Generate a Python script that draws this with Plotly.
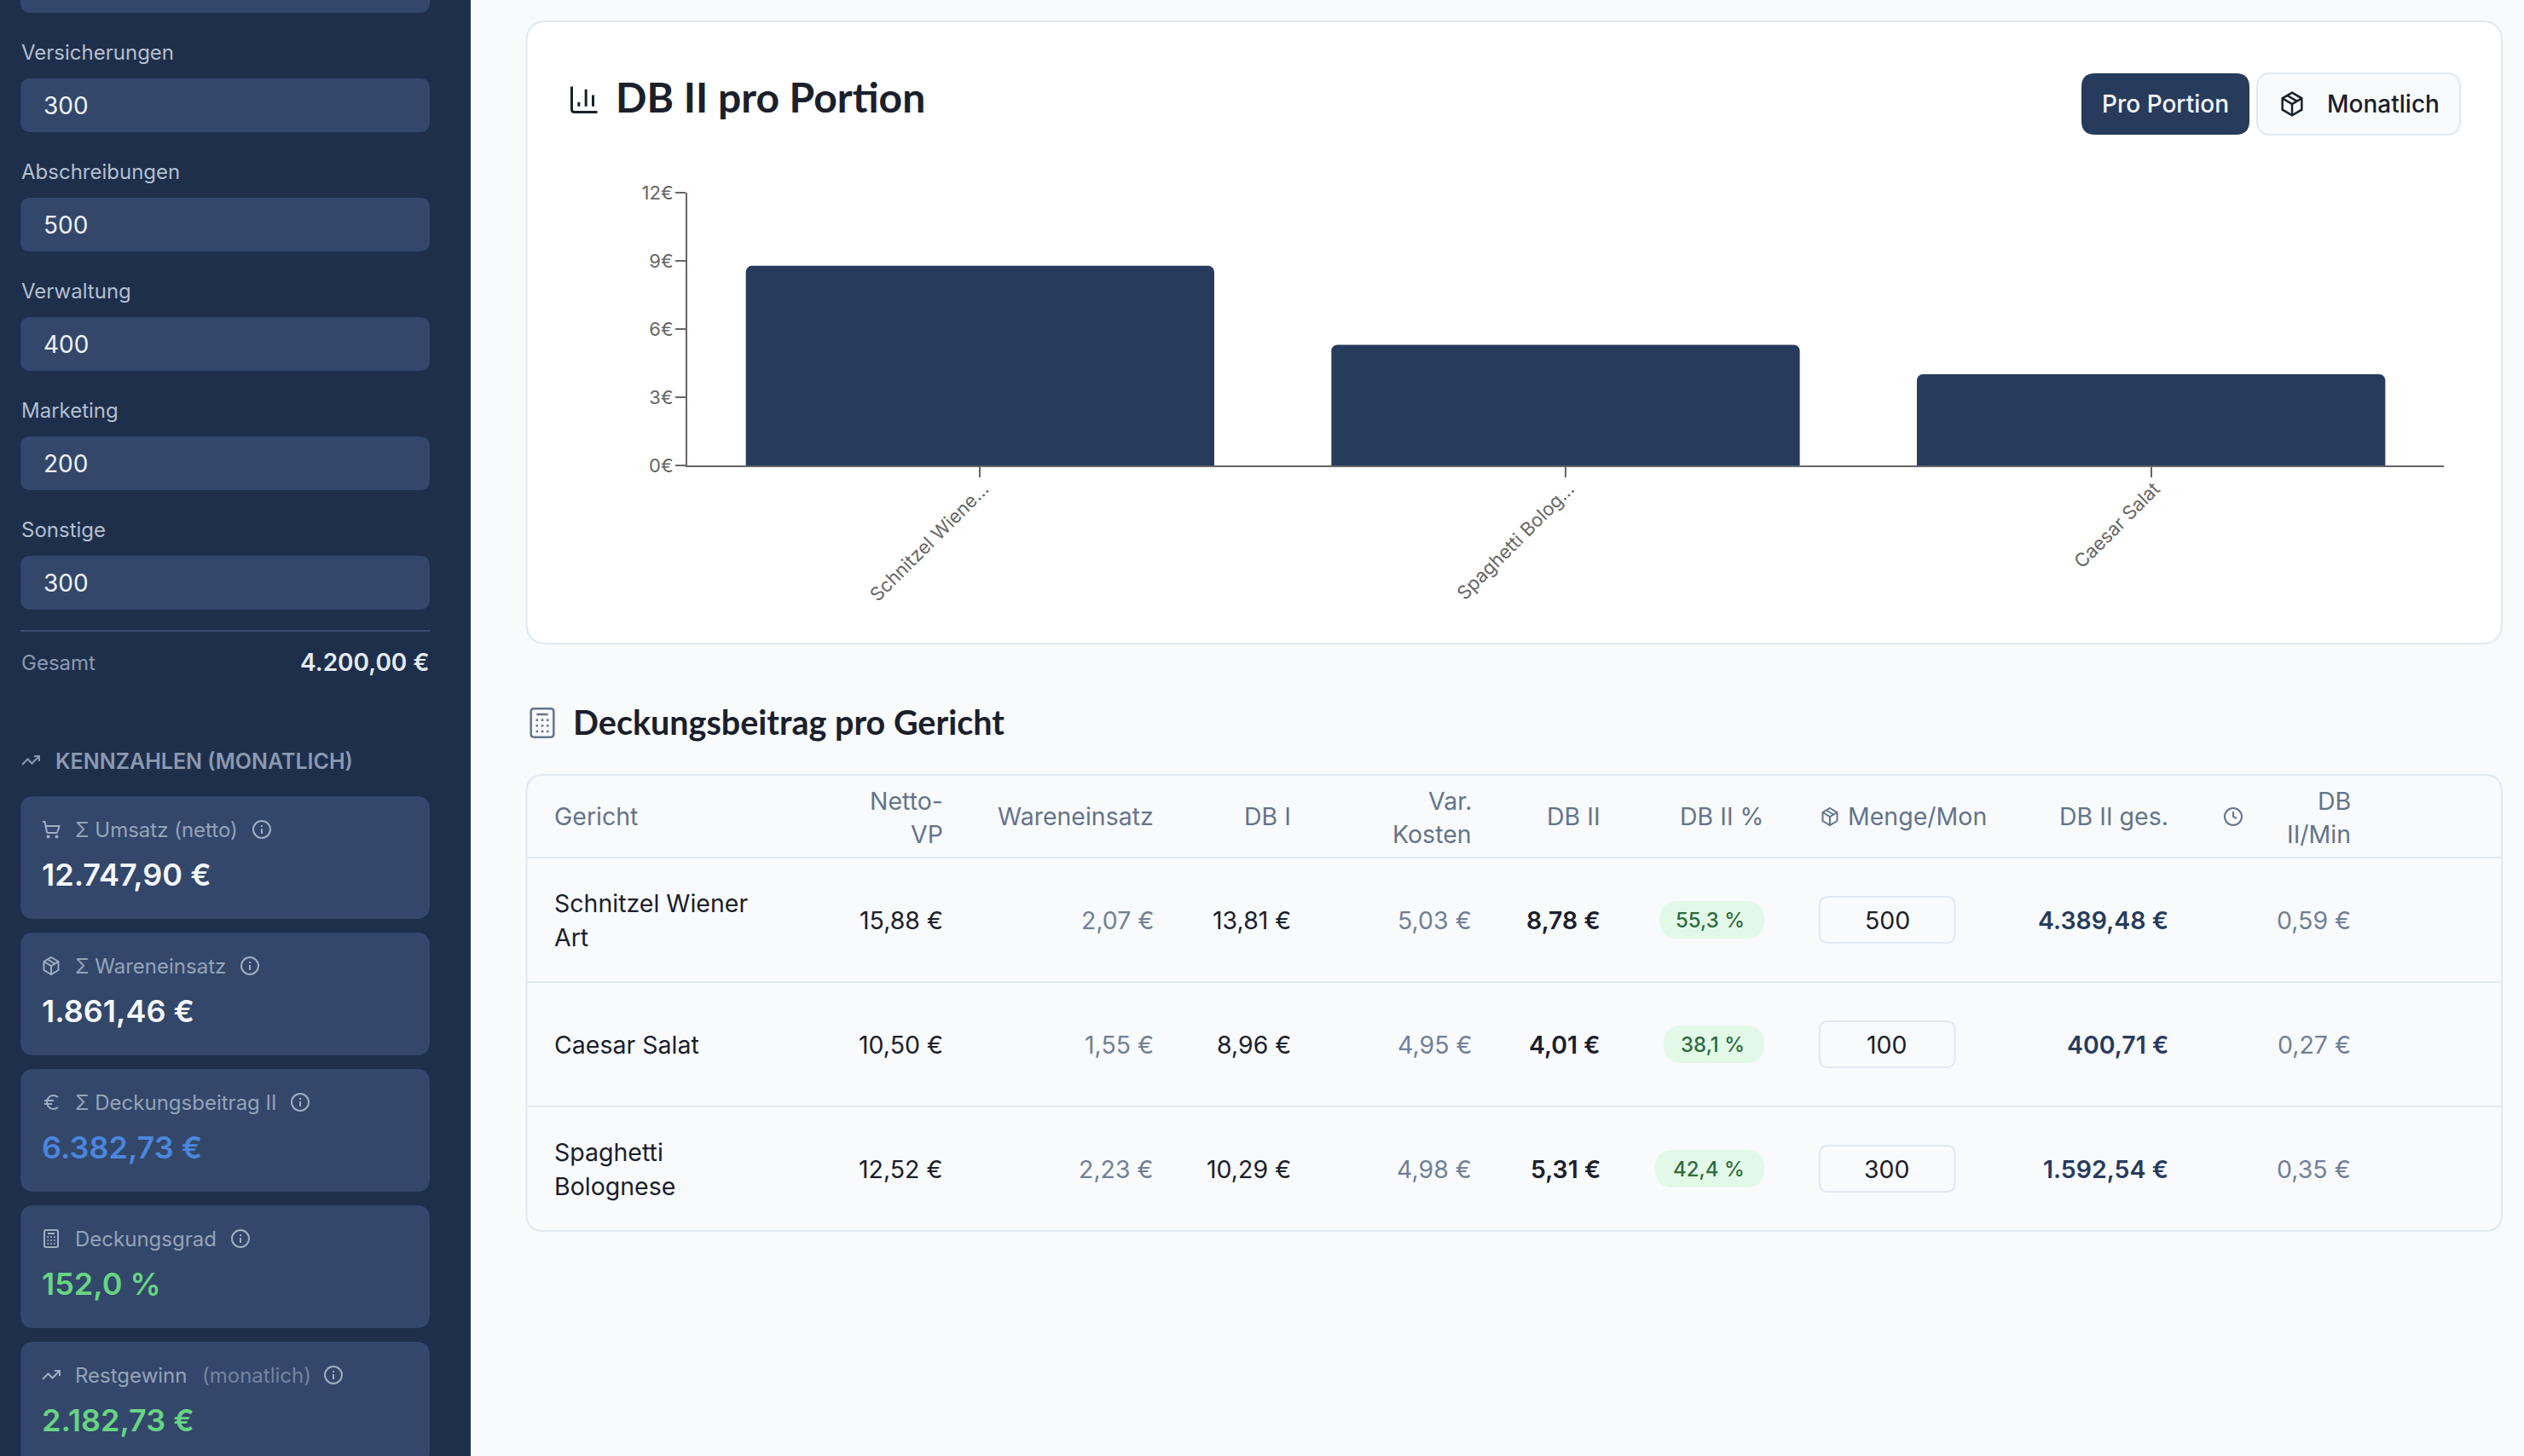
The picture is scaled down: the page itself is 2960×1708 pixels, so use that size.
import re
import plotly.graph_objects as go

W, H = 2960, 1708

# chart values
chart_labels = ["Schnitzel Wiene...", "Spaghetti Bolog...", "Caesar Salat"]
chart_values = [8.78, 5.31, 4.01]
chart_ticks = [0, 3, 6, 9, 12]
chart_tick_text = ["0€", "3€", "6€", "9€", "12€"]

# sidebar values
cost_labels = ["Versicherungen", "Abschreibungen", "Verwaltung", "Marketing", "Sonstige"]
cost_values = [300, 500, 400, 200, 300]
cost_total = "4.200,00 €"
kpi_labels = ["Σ Umsatz (netto)", "Σ Wareneinsatz", "Σ Deckungsbeitrag II", "Deckungsgrad", "Restgewinn"]
kpi_values = ["12.747,90 €", "1.861,46 €", "6.382,73 €", "152,0 %", "2.182,73 €"]

# table values
dish_lines = [["Schnitzel Wiener", "Art"], ["Caesar Salat"], ["Spaghetti", "Bolognese"]]
netto_vp = [15.88, 10.50, 12.52]
wareneinsatz = [2.07, 1.55, 2.23]
db_1 = [13.81, 8.96, 10.29]
var_kosten = [5.03, 4.95, 4.98]
db_2 = [8.78, 4.01, 5.31]
db_2_pct = [55.3, 38.1, 42.4]
menge = [500, 100, 300]
db_2_ges = [4389.48, 400.71, 1592.54]
db_2_min = [0.59, 0.27, 0.35]

SIDEBAR = "#1e2f4c"
FIELD = "#33476b"
NAVY = "#273b5d"
PAGE = "#f8fafc"
LINE = "#e2e8f0"
DARK = "#1a202c"
GREY = "#718096"
FONT = "Inter"
HEAD = "Lato"
TS = 28.5


def eur(v):
    s = f"{v:,.2f}".replace(",", "X").replace(".", ",").replace("X", ".")
    return s + " €"


def px(x):
    return x / W


def py(y):
    return 1 - y / H


def to_paper(path):
    # path is in pixel coords, only absolute M L Q C Z commands
    res, is_x = [], True
    for tok in re.findall(r"[MLQCZ]|-?[\d.]+", path):
        if tok in "MLQCZ":
            res.append(tok)
            is_x = True
        else:
            res.append(f"{px(float(tok)):.6f}" if is_x else f"{py(float(tok)):.6f}")
            is_x = not is_x
    return " ".join(res)


shapes = []
notes = []


def rrect(x0, y0, x1, y1, r, fill, line=None, lw=2):
    p = (f"M {x0+r} {y0} L {x1-r} {y0} Q {x1} {y0} {x1} {y0+r} L {x1} {y1-r} Q {x1} {y1} {x1-r} {y1} "
         f"L {x0+r} {y1} Q {x0} {y1} {x0} {y1-r} L {x0} {y0+r} Q {x0} {y0} {x0+r} {y0} Z")
    shapes.append(dict(type="path", path=to_paper(p), xref="paper", yref="paper", layer="below",
                       fillcolor=fill, line=dict(color=line or fill, width=lw if line else 0)))


def hline(x0, x1, y, color, lw=2):
    shapes.append(dict(type="line", xref="paper", yref="paper", layer="below", x0=px(x0), x1=px(x1),
                       y0=py(y), y1=py(y), line=dict(color=color, width=lw)))


def text(x, y, s, size=28, color=DARK, anchor="left", weight=400, family=FONT):
    notes.append(dict(xref="paper", yref="paper", x=px(x), y=py(y), text=s, showarrow=False,
                      xanchor=anchor, yanchor="middle", borderpad=0,
                      font=dict(family=family, size=size, color=color, weight=weight)))


# icons on a 24 unit grid
ICONS = {
    "bars": ["M 3 3 L 3 19 Q 3 21 5 21 L 21 21", "M 8 17 L 8 14", "M 13 17 L 13 5", "M 18 17 L 18 9"],
    "box": ["M 12 2 L 20.5 7 L 20.5 17 L 12 22 L 3.5 17 L 3.5 7 Z", "M 3.5 7 L 12 12 L 20.5 7", "M 12 22 L 12 12",
            "M 7.7 4.5 L 16.3 9.5"],
    "cart": ["M 2 3 L 4.5 3 L 7 15 Q 7.2 16 8.5 16 L 18 16 Q 19 16 19.4 15 L 21.5 8 L 5.5 8"],
    "trend": ["M 22 7 L 13.5 15.5 L 8.5 10.5 L 2 17", "M 16 7 L 22 7 L 22 13"],
    "euro": ["M 4 10 L 15 10", "M 4 14 L 13 14",
             "M 20 6 C 18 4.6 16 4 14.5 4 C 10 4 7 7.5 7 12 C 7 16.5 10 20 14.5 20 C 16 20 18 19.4 20 18"],
    "calc": ["M 6 2 L 18 2 Q 20 2 20 4 L 20 20 Q 20 22 18 22 L 6 22 Q 4 22 4 20 L 4 4 Q 4 2 6 2 Z", "M 8 6 L 16 6",
             "M 7.5 10 L 9 10", "M 11.2 10 L 12.8 10", "M 15 10 L 16.5 10", "M 7.5 14 L 9 14", "M 11.2 14 L 12.8 14",
             "M 15 14 L 16.5 14", "M 7.5 18 L 9 18", "M 11.2 18 L 12.8 18", "M 15 18 L 16.5 18"],
    "info": ["M 12 17 L 12 11", "M 12 7 L 12 9"],
    "clock": ["M 12 6 L 12 12 L 16 14"],
}


def icon(name, cx, cy, size, color, lw=2):
    k = size / 24
    for d in ICONS[name]:
        res, is_x = [], True
        for t in d.split():
            if t in "MLQCZ":
                res.append(t)
                is_x = True
            else:
                res.append(str(cx + (float(t) - 12) * k if is_x else cy + (float(t) - 12) * k))
                is_x = not is_x
        shapes.append(dict(type="path", path=to_paper(" ".join(res)), xref="paper", yref="paper", layer="below",
                           line=dict(color=color, width=lw)))
    if name in ("info", "clock"):
        r = 10 * k
        shapes.append(dict(type="circle", xref="paper", yref="paper", layer="below", x0=px(cx - r), x1=px(cx + r),
                           y0=py(cy - r), y1=py(cy + r), line=dict(color=color, width=lw)))
    if name == "cart":
        for ux in (8.5, 18.5):
            r = 1 * k
            ax, ay = cx + (ux - 12) * k, cy + (20.5 - 12) * k
            shapes.append(dict(type="circle", xref="paper", yref="paper", layer="below", x0=px(ax - r), x1=px(ax + r),
                               y0=py(ay - r), y1=py(ay + r), line=dict(color=color, width=lw)))


# page and sidebar
shapes.append(dict(type="rect", xref="paper", yref="paper", layer="below", x0=0, x1=1, y0=0, y1=1,
                   fillcolor=PAGE, line=dict(width=0)))
shapes.append(dict(type="rect", xref="paper", yref="paper", layer="below", x0=0, x1=px(552), y0=0, y1=1,
                   fillcolor=SIDEBAR, line=dict(width=0)))
rrect(24, -60, 504, 15, 12, FIELD)

for i, (lab, val) in enumerate(zip(cost_labels, cost_values)):
    top = 92 + 140 * i
    text(23.5, 61.5 + 140 * i, lab, 24, "#b4bfce")
    rrect(24, top, 504, top + 63, 12, FIELD)
    text(50, 123.5 + 140 * i, str(val), 28, "#eef2f7")

hline(24, 504, 740, "#3a4e72")
text(23.5, 777, "Gesamt", 24, "#8b99b0")
text(504, 777, cost_total, 28, "#e6ebf2", "right", 600)

# kennzahlen
icon("trend", 36, 892, 24, "#8b99b0")
text(64, 893, "KENNZAHLEN (MONATLICH)", 25, "#8b99b0", weight=600)

kpi_icons = ["cart", "box", "euro", "calc", "trend"]
kpi_colors = ["#f4f6fa", "#f4f6fa", "#4a86dc", "#68d483", "#68d483"]
info_x = [307, 293, 352, 282, 391]
for i in range(5):
    top = 934 + 160 * i
    rrect(24, top, 504, top + 144, 16, FIELD)
    icon(kpi_icons[i], 60, 973 + 160 * i, 24, "#a0aec0")
    text(86.5, 973 + 160 * i, kpi_labels[i], 24, "#94a3b8")
    icon("info", info_x[i], 973 + 160 * i, 24, "#a0aec0")
    text(48, 1025.5 + 160 * i, kpi_values[i], 36, kpi_colors[i], weight=600)
text(236, 1613, "(monatlich)", 24, "#74849e")

# chart card
rrect(617.5, 25, 2934, 755, 24, "white", LINE)
icon("bars", 685.5, 116.5, 40, DARK, 3)
text(721, 113, "DB II pro Portion", 48, DARK, weight=700, family=HEAD)
rrect(2441, 86, 2638, 158, 16, NAVY)
text(2539.5, 122, "Pro Portion", 28, "#f4f6fa", "center", 500)
rrect(2647, 86, 2885, 158, 16, PAGE, LINE)
icon("box", 2688, 122, 32, DARK, 2.5)
text(2728, 122, "Monatlich", 28, DARK, weight=500)

# table
icon("calc", 636, 848, 40, "#64748b", 2.5)
text(671, 846, "Deckungsbeitrag pro Gericht", 39.5, DARK, weight=700, family=HEAD)
rrect(617.5, 909, 2934, 1444, 20, PAGE, LINE)
for y in (1006, 1152, 1298):
    hline(618, 2933, y, LINE)

HEAD_C = "#64748b"
text(649, 958, "Gericht", TS, HEAD_C)
for x, lines in [(1107, ["Netto-", "VP"]), (1727, ["Var.", "Kosten"]), (2758, ["DB", "II/Min"])]:
    text(x, 939, lines[0], TS, HEAD_C, "right")
    text(x, 978, lines[1], TS, HEAD_C, "right")
for x, s in [(1354, "Wareneinsatz"), (1515, "DB I"), (1878, "DB II"), (2070, "DB II %"), (2544, "DB II ges.")]:
    text(x, 958, s, TS, HEAD_C, "right")
icon("box", 2146, 958, 24, HEAD_C)
text(2166, 958, "Menge/Mon", TS, HEAD_C)
icon("clock", 2619, 958, 24, HEAD_C)

pill_left = [1946, 1951, 1941]
for i in range(3):
    yc = 1079 + 146 * i
    if len(dish_lines[i]) == 2:
        text(649, yc - 20, dish_lines[i][0], TS, DARK)
        text(649, yc + 20, dish_lines[i][1], TS, DARK)
    else:
        text(649, yc, dish_lines[i][0], TS, DARK)
    text(1107, yc, eur(netto_vp[i]), TS, DARK, "right")
    text(1354, yc, eur(wareneinsatz[i]), TS, GREY, "right")
    text(1515, yc, eur(db_1[i]), TS, DARK, "right")
    text(1727, yc, eur(var_kosten[i]), TS, GREY, "right")
    text(1878, yc, eur(db_2[i]), TS, DARK, "right", 600)
    rrect(pill_left[i], yc - 22, 2069, yc + 22, 22, "#e3f9e8")
    text(2047, yc, f"{db_2_pct[i]:.1f} %".replace(".", ","), 24, "#2f6b3f", "right", 500)
    rrect(2134, yc - 27, 2292.5, yc + 27, 10, PAGE, LINE)
    text(2213, yc, str(menge[i]), TS, DARK, "center")
    text(2544, yc, eur(db_2_ges[i]), TS, NAVY, "right", 600)
    text(2758, yc, eur(db_2_min[i]), TS, GREY, "right")

fig = go.Figure(go.Bar(x=chart_labels, y=chart_values, marker_color=NAVY, marker_line_width=0))

fig.update_layout(
    template="none",
    width=W, height=H, margin=dict(l=0, r=0, t=0, b=0), autosize=False,
    paper_bgcolor=PAGE, plot_bgcolor="rgba(0,0,0,0)", showlegend=False,
    bargap=0.2, barcornerradius=7, shapes=shapes, annotations=notes,
    font=dict(family=FONT),
    xaxis=dict(domain=[px(806), px(2866)], type="category", range=[-0.5, 2.5], tickangle=-45, ticks="outside",
               ticklen=12, tickwidth=2, tickcolor="#666666", showline=True, linecolor="#666666", linewidth=2,
               showgrid=False, zeroline=False, automargin=False, ticklabelstandoff=-8, ticklabelshift=4,
               tickfont=dict(family=FONT, size=22, color="#666666")),
    yaxis=dict(domain=[py(546), py(226)], range=[0, 12], tickmode="array", tickvals=chart_ticks,
               ticktext=chart_tick_text, ticks="outside",
               ticklen=12, tickwidth=2, tickcolor="#666666", showline=True, linecolor="#666666", linewidth=2,
               showgrid=False, zeroline=False, automargin=False, ticklabelstandoff=-2,
               tickfont=dict(family=FONT, size=22, color="#666666")),
)

fig.write_html("out.html", config={"displayModeBar": False},
               post_script="document.body.style.margin='0';document.body.style.overflow='hidden';")
